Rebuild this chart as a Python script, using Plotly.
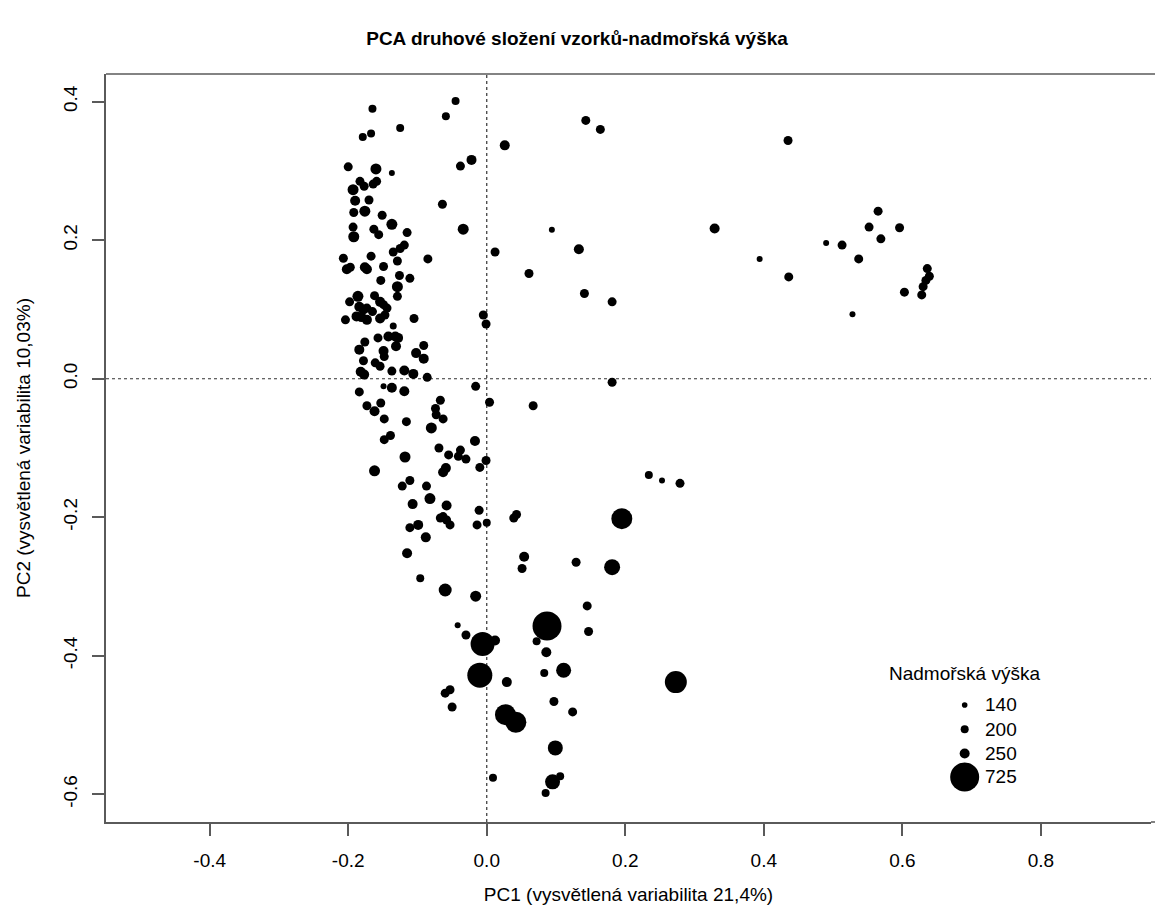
import plotly.graph_objects as go

# PCA scores
pc1 = [-0.165,-0.045,-0.059,-0.125,-0.179,-0.167,-0.200,-0.160,-0.137,-0.038,
       -0.022,-0.183,-0.177,-0.164,-0.159,-0.193,-0.190,-0.170,-0.064,-0.192,
       -0.176,-0.151,-0.137,-0.193,-0.163,-0.156,-0.115,-0.034,-0.192,
       -0.119,-0.125,-0.135,0.012,-0.207,-0.167,-0.129,-0.085,-0.202,-0.197,
       -0.176,-0.173,-0.149,-0.126,-0.111,-0.153,-0.129,-0.129,-0.186,-0.162,
       -0.198,-0.154,-0.149,-0.144,-0.184,-0.178,-0.173,-0.165,-0.188,-0.181,
       -0.173,-0.154,-0.147,-0.204,-0.105,-0.005,-0.001,-0.135,
       -0.157,-0.142,-0.132,-0.128,-0.131,-0.091,-0.176,-0.184,-0.149,-0.148,
       -0.102,-0.091,-0.178,-0.161,-0.154,-0.182,-0.177,-0.137,-0.119,-0.106,-0.086,
       -0.016,-0.149,-0.137,-0.119,-0.184,0.004,-0.067,-0.173,-0.153,-0.162,
       -0.074,-0.073,-0.063,-0.148,-0.116,-0.080,-0.139,-0.148,-0.017,-0.069,
       -0.055,-0.038,-0.041,-0.030,-0.118,-0.001,-0.010,-0.059,-0.063,-0.162,
       -0.111,-0.122,-0.087,-0.082,-0.107,-0.058,-0.011,-0.063,-0.058,-0.053,
       -0.014,0.000,-0.111,-0.099,-0.067,
       0.043,0.039,-0.088,-0.115,0.054,0.051,-0.096,-0.060,-0.016,-0.042,
       -0.030,-0.006,0.012,0.087,0.072,0.086,-0.010,0.083,
       0.147,0.111,0.029,-0.053,-0.060,-0.050,0.097,0.124,0.027,0.042,
       0.099,0.009,0.106,0.095,0.085,
       0.143,0.164,0.435,0.026,0.094,0.329,0.133,0.394,0.436,0.061,
       0.141,0.181,0.181,0.067,
       0.565,0.552,0.596,0.569,0.490,0.513,0.537,0.636,0.639,0.634,
       0.630,0.628,0.603,0.528,
       0.234,0.253,0.279,0.195,0.129,0.181,0.145,0.273]

pc2 = [0.390,0.401,0.379,0.362,0.349,0.354,0.306,0.303,0.297,0.307,
       0.316,0.285,0.278,0.281,0.285,0.273,0.257,0.258,0.252,0.240,
       0.242,0.236,0.223,0.219,0.216,0.208,0.211,0.216,0.205,
       0.193,0.188,0.183,0.183,0.174,0.177,0.170,0.173,0.158,0.161,
       0.161,0.158,0.162,0.149,0.145,0.142,0.133,0.119,0.119,0.120,
       0.111,0.111,0.107,0.102,0.104,0.100,0.102,0.097,0.090,0.089,
       0.085,0.087,0.092,0.085,0.087,0.092,0.079,0.076,
       0.059,0.061,0.061,0.059,0.047,0.048,0.053,0.042,0.040,0.032,
       0.037,0.029,0.026,0.023,0.018,0.010,0.006,0.011,0.012,0.007,0.002,
       -0.011,-0.011,-0.013,-0.018,-0.019,-0.034,-0.031,-0.039,-0.035,-0.047,
       -0.043,-0.052,-0.058,-0.058,-0.062,-0.071,-0.082,-0.088,-0.090,-0.100,
       -0.110,-0.103,-0.112,-0.116,-0.113,-0.118,-0.128,-0.129,-0.135,-0.133,
       -0.147,-0.155,-0.155,-0.173,-0.181,-0.183,-0.190,-0.199,-0.204,-0.211,
       -0.211,-0.208,-0.215,-0.211,-0.201,
       -0.196,-0.201,-0.229,-0.252,-0.257,-0.274,-0.288,-0.305,-0.314,-0.356,
       -0.370,-0.383,-0.378,-0.357,-0.379,-0.395,-0.428,-0.425,
       -0.365,-0.421,-0.438,-0.449,-0.454,-0.474,-0.466,-0.481,-0.485,-0.496,
       -0.533,-0.576,-0.574,-0.582,-0.598,
       0.373,0.360,0.344,0.337,0.215,0.217,0.187,0.173,0.147,0.152,
       0.123,0.111,-0.005,-0.039,
       0.242,0.219,0.218,0.202,0.196,0.193,0.173,0.159,0.148,0.142,
       0.133,0.121,0.125,0.093,
       -0.139,-0.147,-0.151,-0.202,-0.265,-0.272,-0.328,-0.438]

# altitude (m a.s.l.) – estimated from symbol size
altitude = [200,200,200,200,200,200,225,275,150,225,
            250,225,225,225,225,275,250,225,225,225,
            275,225,275,225,225,225,225,275,275,
            225,225,225,225,225,225,225,225,250,225,
            250,250,225,225,225,225,275,225,275,225,
            225,250,225,225,250,250,225,225,250,250,
            250,250,225,225,225,225,225,175,
            225,250,250,250,250,225,225,250,250,225,
            250,250,225,225,225,250,250,225,250,250,225,
            225,150,250,250,225,225,225,225,225,250,
            225,225,225,225,225,275,225,225,250,225,
            225,225,225,225,275,225,225,250,250,275,
            225,225,225,275,250,250,225,225,225,225,
            225,200,225,250,225,
            225,225,250,250,250,225,200,325,275,150,
            225,600,250,725,200,250,625,200,
            225,375,250,225,225,225,225,225,525,525,
            375,200,200,375,200,
            225,225,225,250,150,250,250,150,225,225,
            225,225,225,225,
            225,225,225,225,150,225,225,225,225,225,
            225,225,225,150,
            200,150,225,525,225,400,225,550]

legend_alt = [140, 200, 250, 725]
legend_labels = ["140", "200", "250", "725"]
legend_y = [-0.471, -0.506, -0.541, -0.575]
legend_x = 0.69
legend_text_x = 0.717
legend_title = "Nadmořská výška"
legend_title_y = -0.425

title = "PCA druhové složení vzorků-nadmořská výška"
xlab = "PC1 (vysvětlená variabilita 21,4%)"
ylab = "PC2 (vysvětlená variabilita 10,03%)"
xticks = [-0.4, -0.2, 0.0, 0.2, 0.4, 0.6, 0.8]
xticklabels = ["-0.4", "-0.2", "0.0", "0.2", "0.4", "0.6", "0.8"]
yticks = [-0.6, -0.4, -0.2, 0.0, 0.2, 0.4]
yticklabels = ["-0.6", "-0.4", "-0.2", "0.0", "0.2", "0.4"]

SIZEREF = 25.0
FONT = "Liberation Sans, Arial, sans-serif"
AXCOL = "#5a5a5a"

fig = go.Figure()
fig.add_trace(go.Scatter(
    x=pc1, y=pc2, mode="markers",
    marker=dict(size=altitude, sizemode="diameter", sizeref=SIZEREF,
                color="black", opacity=1, line=dict(width=0)),
    showlegend=False, hoverinfo="x+y"))

fig.add_trace(go.Scatter(
    x=[legend_x] * len(legend_alt), y=legend_y, mode="markers",
    marker=dict(size=legend_alt, sizemode="diameter", sizeref=SIZEREF,
                color="black", opacity=1, line=dict(width=0)),
    showlegend=False, hoverinfo="skip"))

for lab, yy in zip(legend_labels, legend_y):
    fig.add_annotation(x=legend_text_x, y=yy, text=lab, showarrow=False,
                       xanchor="left", yanchor="middle",
                       font=dict(size=19, color="black", family=FONT))
fig.add_annotation(x=legend_x, y=legend_title_y, text=legend_title, showarrow=False,
                   xanchor="center", yanchor="middle",
                   font=dict(size=19, color="black", family=FONT))

# dotted reference lines at zero
fig.add_shape(type="line", xref="x", yref="y domain", x0=0, x1=0, y0=0, y1=1,
              line=dict(color="#333", width=1.2, dash="dot"), layer="below")
fig.add_shape(type="line", xref="x domain", yref="y", x0=0, x1=1, y0=0, y1=0,
              line=dict(color="#333", width=1.2, dash="dot"), layer="below")
# top edge of the box (right edge lies outside the picture)
fig.add_shape(type="line", xref="x domain", yref="y domain", x0=0, x1=1.01, y0=1, y1=1,
              line=dict(color=AXCOL, width=1.5), layer="above")
fig.add_shape(type="line", xref="x domain", yref="y domain", x0=1, x1=1.01, y0=0, y1=0,
              line=dict(color=AXCOL, width=1.5), layer="above")

fig.update_layout(
    width=1155, height=920, autosize=False,
    margin=dict(l=106, r=4, t=74, b=98),
    paper_bgcolor="white", plot_bgcolor="white",
    font=dict(family=FONT, size=19, color="black"),
    title=dict(text="<b>" + title + "</b>", x=0.4996, y=1 - 38 / 920,
               xref="container", yref="container",
               xanchor="center", yanchor="middle",
               font=dict(size=19, color="black", family=FONT)),
    xaxis=dict(range=[-0.5497, 0.959], tickvals=xticks, ticktext=xticklabels,
               showgrid=False, zeroline=False, showline=True, mirror=False,
               linecolor=AXCOL, linewidth=1.5, ticks="outside", ticklen=12,
               tickwidth=1.5, tickcolor=AXCOL, ticklabelstandoff=8,
               tickfont=dict(size=19, color="black"),
               title=dict(text=xlab, standoff=18, font=dict(size=19, color="black")),
               automargin=False),
    yaxis=dict(range=[-0.64, 0.44], tickvals=yticks, ticktext=yticklabels,
               showgrid=False, zeroline=False, showline=True, mirror=False,
               linecolor=AXCOL, linewidth=1.5, ticks="outside", ticklen=12,
               tickwidth=1.5, tickcolor=AXCOL, tickangle=-90, ticklabelstandoff=8,
               tickfont=dict(size=19, color="black"),
               title=dict(text=ylab, standoff=24, font=dict(size=19, color="black")),
               automargin=False),
)

fig.write_html("out.html")
